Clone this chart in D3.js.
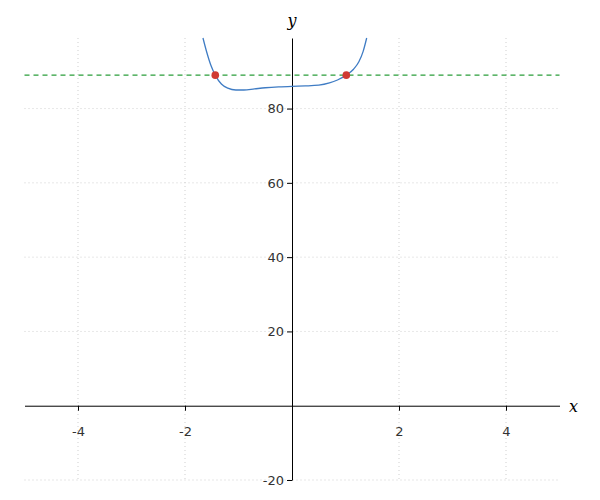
<!DOCTYPE html>
<html>
<head>
<meta charset="utf-8">
<script src="https://cdn.jsdelivr.net/npm/d3@7"></script>
<style>
html,body{margin:0;padding:0;background:#fff;}
svg{display:block;font-family:"DejaVu Sans",sans-serif;}
</style>
</head>
<body>
<svg id="chart" width="600" height="500"></svg>
<script>
// Data
const curveX = [-1.664, -1.6, -1.52, -1.434, -1.32, -1.2, -1.05, -0.9, -0.7, -0.5, -0.25, 0, 0.25, 0.5, 0.7, 0.85, 1.015, 1.15, 1.25, 1.33, 1.396];
const curveY = [99.0, 95.5, 91.8, 89.0, 86.6, 85.5, 85.0, 85.0, 85.3, 85.6, 85.85, 86.0, 86.1, 86.3, 86.9, 87.7, 89.0, 90.6, 92.6, 95.4, 99.0];
const levelY = 89;
const pointX = [-1.434, 1.015];
const pointY = [89, 89];
const xTicks = [-4, -2, 2, 4];
const yTicks = [-20, 20, 40, 60, 80];
const xDomain = [-5, 5];
const yDomain = [-20, 99];

const svg = d3.select("#chart");
const x = d3.scaleLinear().domain(xDomain).range([24.5, 559.5]);
const y = d3.scaleLinear().domain(yDomain).range([480, 38]);

// grid
const grid = svg.append("g").attr("stroke", "#cfcfcf").attr("stroke-width", 1).attr("stroke-dasharray", "1,3");
grid.selectAll("line.v").data(xTicks).join("line")
  .attr("x1", d => x(d)).attr("x2", d => x(d))
  .attr("y1", y(yDomain[1])).attr("y2", y(yDomain[0]));
grid.selectAll("line.h").data(yTicks).join("line")
  .attr("x1", x(xDomain[0])).attr("x2", x(xDomain[1]))
  .attr("y1", d => y(d)).attr("y2", d => y(d));

// axes
const fmt = d => String(d);
const xAxis = d3.axisBottom(x).tickValues(xTicks).tickFormat(fmt).tickSize(5).tickPadding(16).tickSizeOuter(0);
const gx = svg.append("g").attr("transform", `translate(0,${y(0)})`).call(xAxis);
const yAxis = d3.axisLeft(y).tickValues(yTicks).tickFormat(fmt).tickSize(5).tickPadding(3).tickSizeOuter(0);
const gy = svg.append("g").attr("transform", `translate(${x(0)},0)`).call(yAxis);
[gx, gy].forEach(g => {
  g.select(".domain").attr("stroke", "#000").attr("stroke-width", 1);
  g.selectAll(".tick line").attr("stroke", "#000");
  g.selectAll(".tick text").attr("font-family", "DejaVu Sans, sans-serif").attr("font-size", 13).attr("fill", "#333");
});

// axis labels
svg.append("text").attr("x", x(xDomain[1]) + 14).attr("y", y(0) + 6)
  .attr("text-anchor", "middle").attr("font-family", "DejaVu Serif, serif").attr("font-style", "italic")
  .attr("font-size", 16).attr("fill", "#000").text("x");
svg.append("text").attr("x", x(0)).attr("y", 26)
  .attr("text-anchor", "middle").attr("font-family", "DejaVu Serif, serif").attr("font-style", "italic")
  .attr("font-size", 16).attr("fill", "#000").text("y");

// dashed level line
svg.append("line").attr("x1", x(xDomain[0])).attr("x2", x(xDomain[1]))
  .attr("y1", y(levelY)).attr("y2", y(levelY))
  .attr("stroke", "#2a9d3a").attr("stroke-width", 1.2).attr("stroke-dasharray", "5,4");

// curve
const pts = curveX.map((d, i) => [d, curveY[i]]);
svg.append("path").datum(pts)
  .attr("fill", "none").attr("stroke", "#3f7cc4").attr("stroke-width", 1.3)
  .attr("d", d3.line().x(d => x(d[0])).y(d => y(d[1])).curve(d3.curveMonotoneX));

// intersection points
svg.selectAll("circle.pt").data(pointX.map((d, i) => [d, pointY[i]])).join("circle")
  .attr("cx", d => x(d[0])).attr("cy", d => y(d[1])).attr("r", 3.8)
  .attr("fill", "#d03a33");
</script>
</body>
</html>
